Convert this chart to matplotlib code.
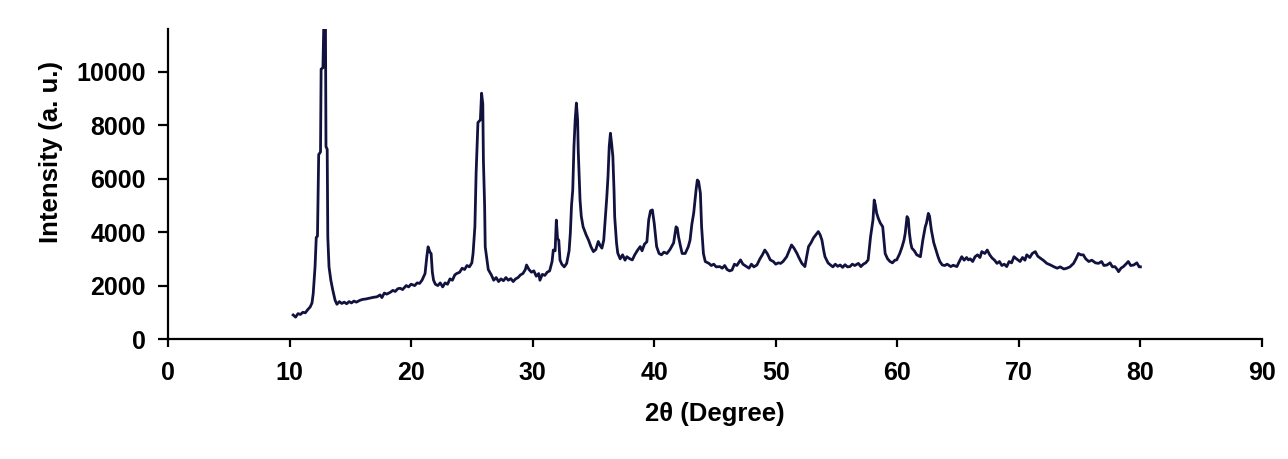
import matplotlib
matplotlib.use("Agg")
import matplotlib.pyplot as plt

# 2theta (degree) values
two_theta = [
    10.3, 10.5, 10.7, 10.9, 11.1, 11.3, 11.5, 11.7, 11.85, 11.95,
    12.1, 12.2, 12.3, 12.4, 12.55, 12.6, 12.75, 12.85, 12.95, 13.0,
    13.1, 13.15, 13.25, 13.4, 13.55, 13.75, 13.9, 14.1, 14.3, 14.5,
    14.7, 14.9, 15.1, 15.3, 15.5, 15.8, 16.0, 16.3, 16.6, 16.9,
    17.2, 17.45, 17.6, 17.8, 18.0, 18.3, 18.5, 18.7, 18.9, 19.1,
    19.3, 19.6, 19.8, 20.0, 20.3, 20.5, 20.7, 20.9, 21.15, 21.3,
    21.4, 21.55, 21.65, 21.75, 21.85, 22.0, 22.2, 22.4, 22.6, 22.8,
    23.0, 23.2, 23.4, 23.6, 23.75, 24.0, 24.2, 24.4, 24.6, 24.8,
    25.0, 25.1, 25.25, 25.35, 25.5, 25.7, 25.8, 25.9, 25.95, 26.05,
    26.1, 26.35, 26.6, 26.8, 27.0, 27.2, 27.4, 27.6, 27.8, 28.0,
    28.2, 28.4, 28.6, 28.8, 29.0, 29.2, 29.4, 29.5, 29.7, 29.9,
    30.1, 30.3, 30.5, 30.6, 30.8, 31.0, 31.2, 31.4, 31.6, 31.7,
    31.85, 31.95, 32.05, 32.15, 32.25, 32.4, 32.6, 32.8, 33.0, 33.1,
    33.2, 33.3, 33.4, 33.5, 33.6, 33.7, 33.75, 33.9, 34.0, 34.15,
    34.4, 34.6, 34.8, 35.0, 35.2, 35.4, 35.55, 35.7, 35.85, 35.95,
    36.1, 36.2, 36.3, 36.4, 36.5, 36.6, 36.7, 36.75, 36.9, 37.0,
    37.2, 37.4, 37.6, 37.75, 38.0, 38.2, 38.4, 38.6, 38.85, 39.0,
    39.2, 39.4, 39.55, 39.7, 39.85, 40.0, 40.1, 40.2, 40.4, 40.6,
    40.8, 41.05, 41.3, 41.6, 41.8, 41.9, 42.0, 42.15, 42.3, 42.55,
    42.8, 42.95, 43.1, 43.25, 43.45, 43.55, 43.65, 43.8, 43.9, 44.05,
    44.2, 44.5, 44.7, 44.9, 45.1, 45.4, 45.6, 45.8, 46.0, 46.2,
    46.4, 46.6, 46.8, 47.1, 47.3, 47.6, 47.8, 48.0, 48.2, 48.45,
    48.7, 48.9, 49.1, 49.3, 49.55, 49.8, 50.0, 50.2, 50.4, 50.6,
    50.9, 51.1, 51.3, 51.5, 51.75, 51.9, 52.15, 52.4, 52.55, 52.7,
    52.9, 53.1, 53.3, 53.5, 53.65, 53.8, 53.95, 54.05, 54.3, 54.5,
    54.7, 54.9, 55.1, 55.3, 55.5, 55.7, 55.9, 56.1, 56.3, 56.5,
    56.8, 57.0, 57.2, 57.4, 57.6, 57.8, 58.0, 58.1, 58.2, 58.3,
    58.45, 58.6, 58.8, 58.9, 59.0, 59.2, 59.4, 59.6, 59.8, 59.95,
    60.2, 60.4, 60.55, 60.65, 60.8, 60.9, 61.0, 61.1, 61.2, 61.4,
    61.6, 61.9, 62.1, 62.3, 62.4, 62.55, 62.65, 62.8, 63.0, 63.2,
    63.35, 63.5, 63.7, 63.9, 64.1, 64.4, 64.6, 64.9, 65.1, 65.3,
    65.5, 65.7, 65.85, 66.0, 66.2, 66.4, 66.6, 66.8, 66.95, 67.2,
    67.4, 67.6, 67.8, 68.0, 68.2, 68.4, 68.6, 68.8, 69.0, 69.2,
    69.4, 69.6, 69.8, 70.1, 70.3, 70.5, 70.65, 70.9, 71.1, 71.35,
    71.55, 71.75, 72.0, 72.3, 72.6, 72.9, 73.15, 73.4, 73.7, 73.95,
    74.2, 74.5, 74.7, 74.9, 75.1, 75.3, 75.5, 75.75, 76.0, 76.3,
    76.55, 76.8, 77.0, 77.25, 77.5, 77.7, 77.9, 78.1, 78.2, 78.4,
    78.6, 78.8, 79.0, 79.2, 79.45, 79.7, 79.9, 80.0,
]

# intensity (a. u.) at each 2theta
intensity = [
    900, 820, 950, 920, 1000, 980, 1100, 1200, 1350, 1700,
    2700, 3800, 3850, 6900, 7000, 10100, 10150, 12500, 12500, 7200,
    7100, 3800, 2700, 2200, 1850, 1450, 1300, 1400, 1330, 1380,
    1320, 1400, 1350, 1420, 1380, 1450, 1480, 1500, 1530, 1560,
    1580, 1650, 1550, 1720, 1680, 1750, 1820, 1780, 1880, 1900,
    1850, 2000, 1950, 2050, 2000, 2100, 2080, 2200, 2450, 3100,
    3450, 3250, 3200, 2500, 2200, 2050, 2000, 2100, 1950, 2100,
    2050, 2250, 2200, 2400, 2450, 2500, 2650, 2600, 2750, 2700,
    2850, 3200, 4200, 6200, 8100, 8200, 9200, 8800, 6700, 5000,
    3450, 2600, 2400, 2200, 2300, 2150, 2250, 2180, 2300, 2200,
    2260, 2150, 2250, 2300, 2400, 2450, 2600, 2770, 2600, 2500,
    2550, 2350, 2450, 2200, 2420, 2380, 2500, 2550, 2900, 3330,
    3300, 4450, 3750, 3700, 2960, 2800, 2700, 2830, 3300, 3950,
    5000, 5580, 7200, 8200, 8830, 8200, 7080, 5200, 4600, 4200,
    3900, 3700, 3450, 3270, 3350, 3650, 3500, 3400, 3700, 4340,
    5300, 6080, 7200, 7700, 7300, 6830, 5500, 4580, 3600, 3220,
    3000, 3150, 2950, 3080, 3000, 2960, 3150, 3300, 3460, 3300,
    3550, 3640, 4460, 4800, 4830, 4340, 3900, 3460, 3200, 3150,
    3250, 3200, 3350, 3600, 4200, 4150, 3830, 3500, 3200, 3200,
    3450, 3700, 4300, 4710, 5600, 5950, 5900, 5460, 4200, 3200,
    2900, 2830, 2750, 2800, 2700, 2710, 2650, 2750, 2600, 2550,
    2580, 2800, 2750, 2960, 2800, 2710, 2650, 2800, 2700, 2770,
    3000, 3150, 3330, 3200, 2960, 2900, 2800, 2850, 2830, 2900,
    3080, 3300, 3520, 3400, 3200, 3050, 2830, 2710, 3100, 3460,
    3600, 3780, 3900, 4020, 3900, 3700, 3300, 3080, 2850, 2770,
    2700, 2800, 2720, 2770, 2680, 2780, 2700, 2710, 2800, 2750,
    2830, 2710, 2800, 2850, 2960, 3830, 4460, 5200, 5000, 4710,
    4500, 4340, 4200, 3700, 3200, 3000, 2900, 2850, 2950, 2960,
    3200, 3460, 3700, 3950, 4580, 4500, 3950, 3600, 3400, 3300,
    3150, 3080, 3700, 4200, 4340, 4700, 4600, 4080, 3600, 3300,
    3080, 2900, 2770, 2750, 2800, 2710, 2760, 2710, 2900, 3080,
    2950, 3050, 2960, 3000, 2900, 3080, 3150, 3050, 3270, 3200,
    3330, 3150, 3030, 2950, 2830, 2900, 2750, 2800, 2710, 2900,
    2850, 3080, 3000, 2900, 3050, 2950, 3150, 3050, 3200, 3270,
    3100, 3030, 2950, 2830, 2770, 2700, 2650, 2700, 2620, 2650,
    2700, 2830, 3000, 3200, 3150, 3150, 3000, 2900, 2950, 2850,
    2830, 2900, 2750, 2770, 2850, 2700, 2710, 2600, 2520, 2650,
    2710, 2800, 2900, 2750, 2770, 2850, 2700, 2700,
]

x_ticks = [0, 10, 20, 30, 40, 50, 60, 70, 80, 90]
y_ticks = [0, 2000, 4000, 6000, 8000, 10000]

plt.rcParams['font.family'] = ['Liberation Sans', 'DejaVu Sans']
plt.rcParams['font.weight'] = 'bold'

fig = plt.figure(figsize=(12.88, 4.59), dpi=100)
ax = fig.add_axes([0.1304, 0.2614, 0.8494, 0.6754])

ax.plot(two_theta, intensity, color='#12123f', linewidth=2.0)

ax.set_xlim(0, 90)
ax.set_ylim(0, 11600)
ax.set_xticks(x_ticks)
ax.set_yticks(y_ticks)

for side in ['top', 'right']:
    ax.spines[side].set_visible(False)
for side in ['left', 'bottom']:
    ax.spines[side].set_linewidth(1.6)
    ax.spines[side].set_color('black')

ax.tick_params(axis='x', direction='out', length=6, width=1.6, pad=10, labelsize=18)
ax.tick_params(axis='y', direction='out', length=7, width=1.6, pad=9, labelsize=18)
for lab in ax.get_xticklabels() + ax.get_yticklabels():
    lab.set_fontweight('bold')

ax.set_xlabel('2θ (Degree)', fontsize=18.5, fontweight='bold', labelpad=12)
ax.set_ylabel('Intensity (a. u.)', fontsize=18.5, fontweight='bold')
ax.yaxis.set_label_coords(-0.096, 0.603)

fig.savefig('out.png', dpi=100, facecolor='white')
